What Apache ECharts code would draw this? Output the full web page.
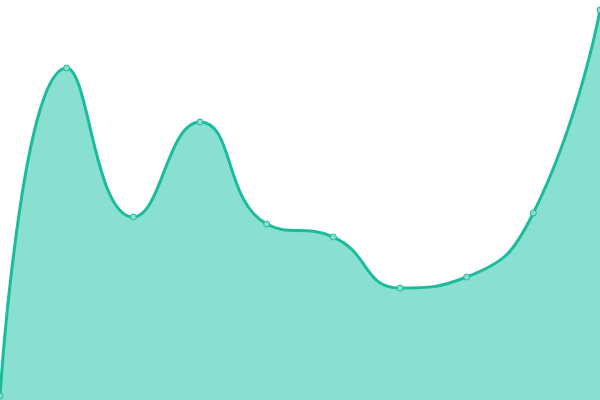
<!DOCTYPE html>
<html>
<head>
<meta charset="utf-8">
<script src="https://cdn.jsdelivr.net/npm/echarts@6/dist/echarts.min.js"></script>
<style>
html, body { margin: 0; padding: 0; background: #fff; }
#chart { width: 600px; height: 400px; }
</style>
</head>
<body>
<div id="chart"></div>
<script>
// categories and values
var categories = ['1', '2', '3', '4', '5', '6', '7', '8', '9', '10'];
var values = [4, 332, 183, 278, 176, 163, 112, 123, 187, 390];

var lineColor = '#1abc9c';
var areaColor = '#8ae0d0';

var chart = echarts.init(document.getElementById('chart'));
chart.setOption({
    animation: false,
    grid: { left: 0, right: 0, top: 0, bottom: 0 },
    xAxis: {
        type: 'category',
        data: categories,
        boundaryGap: false,
        show: false
    },
    yAxis: {
        type: 'value',
        min: 0,
        max: 400,
        show: false
    },
    series: [{
        type: 'line',
        data: values,
        smooth: true,
        symbol: 'circle',
        symbolSize: 6,
        lineStyle: { color: lineColor, width: 3 },
        itemStyle: { color: areaColor, borderColor: lineColor, borderWidth: 1 },
        areaStyle: { color: areaColor, opacity: 1 }
    }]
});
</script>
</body>
</html>
